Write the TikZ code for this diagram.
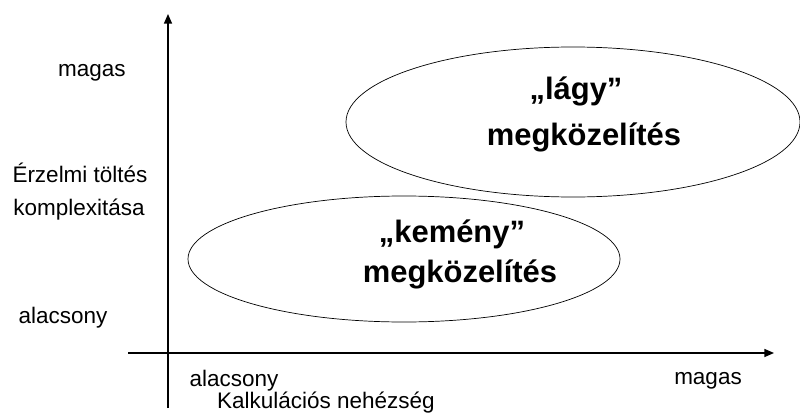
\documentclass[tikz,border=0pt]{standalone}
\usepackage{fontspec}
\setmainfont{Liberation Sans}
\usetikzlibrary{arrows.meta}
\begin{document}
\begin{tikzpicture}[every node/.style={font=\fontsize{16}{18}\selectfont},
  axis/.style={line width=0.9pt, -{Triangle[length=2.4mm, width=2mm]}},
  approach/.style={font=\bfseries\fontsize{22}{24}\selectfont}]
\useasboundingbox (0, 0) rectangle (20, 10.35);

% axes
\coordinate (O1) at (4.2, 0.15);
\coordinate (Y) at (4.2, 10.0);
\coordinate (O2) at (3.2, 1.525);
\coordinate (X) at (19.35, 1.525);
\draw[axis] (O1) to (Y);
\draw[axis] (O2) to (X);

% ellipses
\draw[line width=0.5pt] (14.325, 7.3) ellipse (5.675 and 1.875);
\filldraw[line width=0.5pt, fill=white] (10.1, 3.875) ellipse (5.4 and 1.575);

\node[approach] (L1) at (14.4, 8.075) {„lágy”};
\node[approach] (L2) at (14.6, 6.925) {megközelítés};
\node[approach] (K1) at (11.3, 4.5) {„kemény”};
\node[approach] (K2) at (11.5, 3.5) {megközelítés};

\node (YH) at (2.3, 8.525) {magas};
\node (YT1) at (2.0, 6.025) {Érzelmi töltés};
\node (YT2) at (1.975, 5.1) {komplexitása};
\node (YL) at (1.575, 2.4) {alacsony};
\node (XL) at (5.85, 0.825) {alacsony};
\node (XT) at (8.15, 0.275) {Kalkulációs nehézség};
\node (XH) at (17.7, 0.825) {magas};
\end{tikzpicture}
\end{document}
